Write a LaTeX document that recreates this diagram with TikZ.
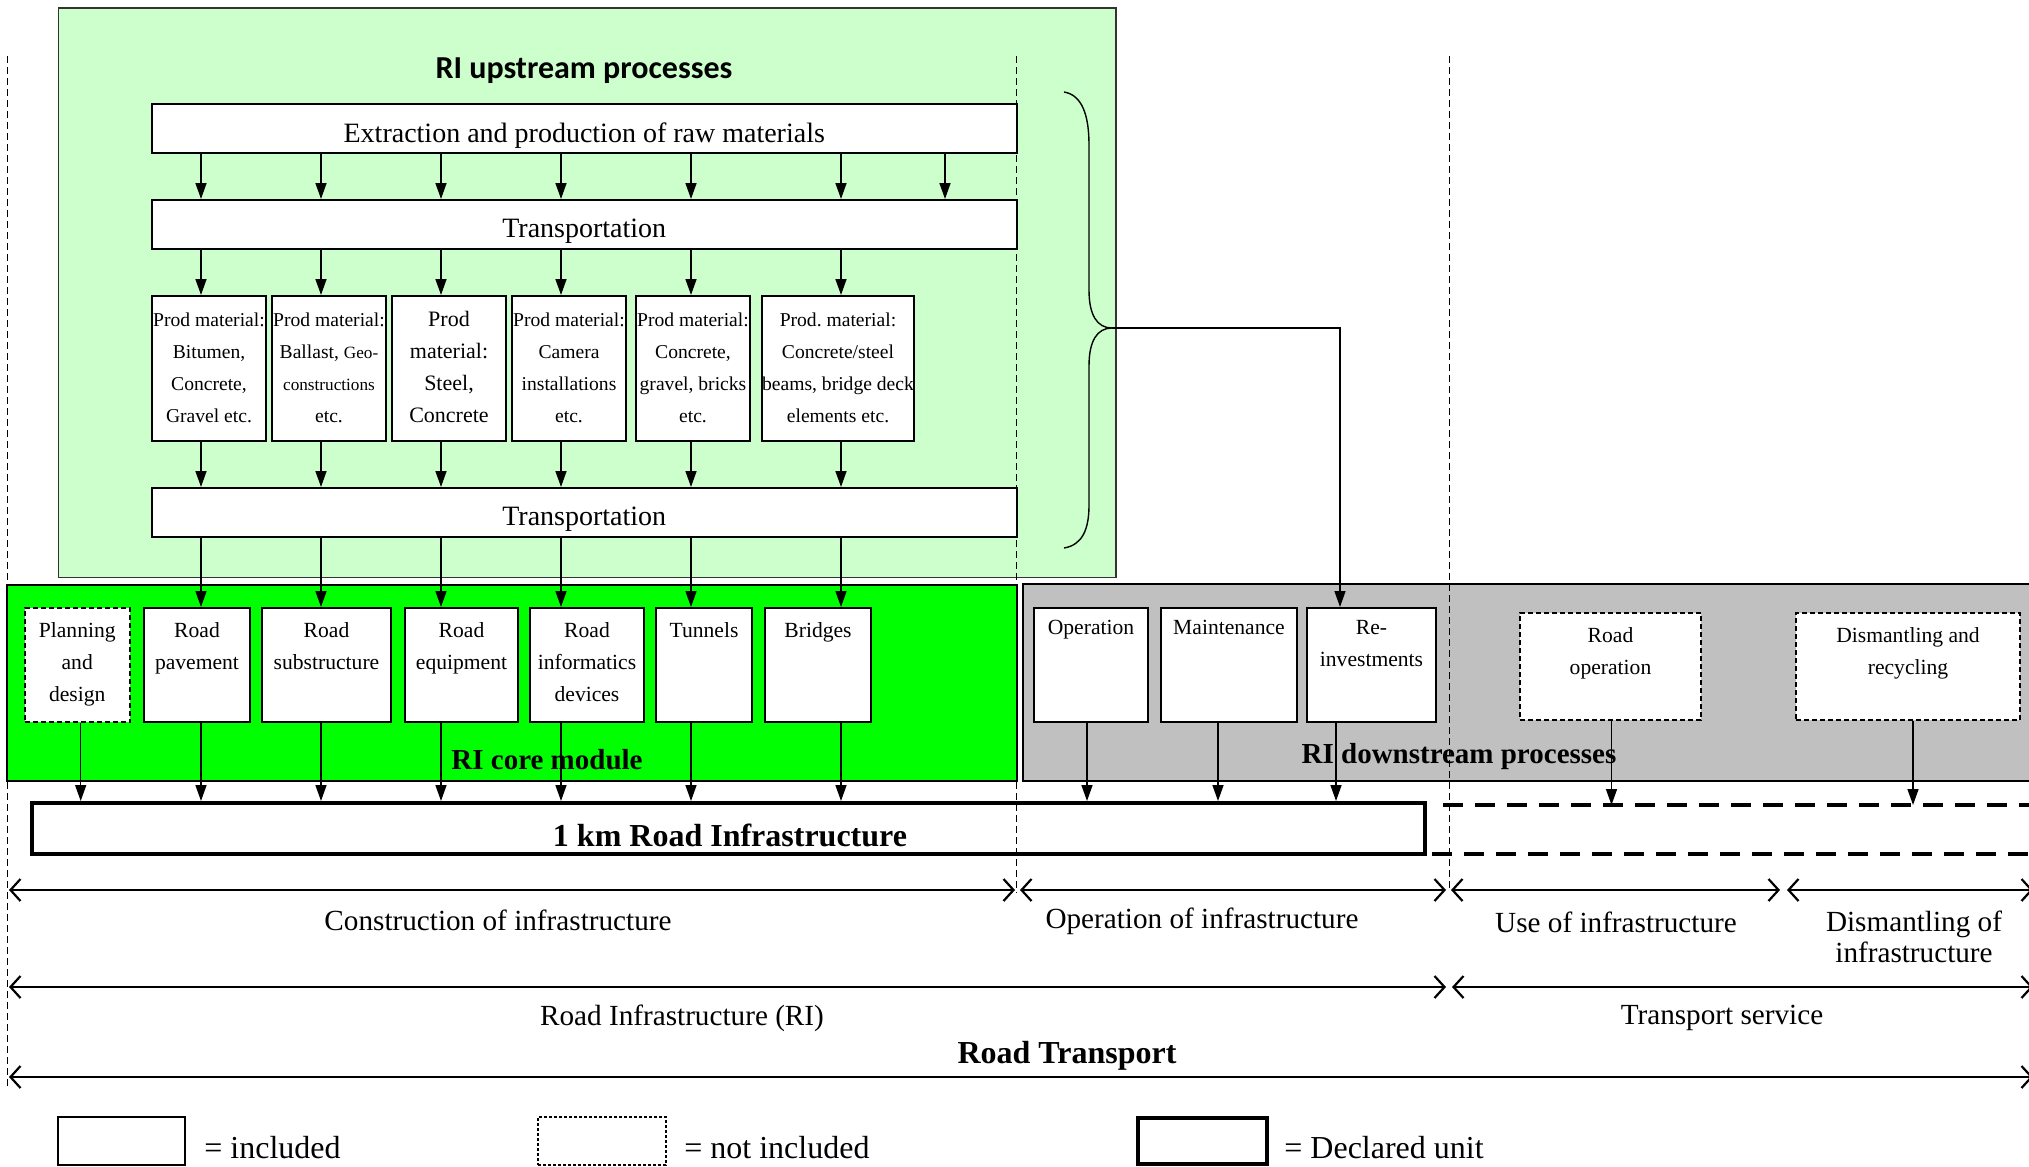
\documentclass[tikz,border=0pt]{standalone}
\usepackage{fontspec}
\setmainfont{Liberation Serif}
\newfontfamily\calibri{Carlito}
\usetikzlibrary{fit,arrows.meta}
\definecolor{upgreen}{HTML}{CCFFCC}
\definecolor{coregreen}{HTML}{00FF00}
\definecolor{downgray}{HTML}{C0C0C0}
\frenchspacing
\begin{document}
\begin{tikzpicture}[x=0.5pt,y=-0.5pt,
  box/.style={draw, fill=white, line width=1pt, inner sep=0pt},
  nbox/.style={draw, fill=white, line width=1pt, inner sep=0pt, dash pattern=on 2.5pt off 1.5pt},
  area/.style={draw=black!80, line width=0.8pt, inner sep=0pt},
  arr/.style={-{Triangle[length=8pt,width=5.5pt]}, line width=0.75pt},
  dimarr/.style={{Straight Barb[length=5pt,width=11pt]}-{Straight Barb[length=5pt,width=11pt]}, line width=1.1pt},
  vdash/.style={line width=0.5pt, dash pattern=on 3.5pt off 2pt},
  txt/.style={inner sep=0pt, align=center},
  big/.style={txt, font=\fontsize{14}{17}\selectfont},
  sml/.style={txt, font=\fontsize{10.8}{16}\selectfont},
  prod/.style={txt, font=\fontsize{9.8}{16}\selectfont},
  lab/.style={txt, font=\fontsize{14.6}{15.5}\selectfont},
  blab/.style={txt, font=\bfseries\fontsize{14.5}{17}\selectfont},
  leg/.style={inner sep=0pt, anchor=west, font=\fontsize{16}{18}\selectfont}]
\useasboundingbox (0,0) rectangle (2029,1167);

% column coordinates
\coordinate (c0) at (80.7,0);
\coordinate (c1) at (201,0);
\coordinate (c2) at (321,0);
\coordinate (c3) at (441,0);
\coordinate (c4) at (561,0);
\coordinate (c5) at (691,0);
\coordinate (c6) at (841,0);
\coordinate (c7) at (945,0);
\coordinate (d1) at (1087,0);
\coordinate (d2) at (1218,0);
\coordinate (d3) at (1336,0);
\coordinate (cre) at (1340,0);
\coordinate (d4) at (1611.5,0);
\coordinate (d5) at (1913,0);

% areas
\node[area, fill=upgreen, fit={(58.6,8) (1116,577.5)}] (up) {};
\node[area, draw=black, fill=coregreen, fit={(7,585) (1017,781)}] (core) {};
\node[area, draw=black, fill=downgray, fit={(1023,584) (2040,781)}] (down) {};

\node[font=\calibri\bfseries\fontsize{16}{19}\selectfont] (uptitle) at (584,71) {RI upstream processes};
\node[blab] (coretitle) at (547,760) {RI core module};
\node[blab] (downtitle) at (1459,757) {RI downstream processes};

% upstream boxes
\node[box, fit={(152,104) (1016.5,153)}] (ext) {};
\node[big] at ([yshift=-3.6pt]ext.center) {Extraction and production of raw materials};
\node[box, fit={(152,200) (1016.5,249)}] (tr1) {};
\node[big] at ([yshift=-3.6pt]tr1.center) {Transportation};
\node[box, fit={(152,296) (266,441)}] (p1) {};
\node[box, fit={(272,296) (386,441)}] (p2) {};
\node[box, fit={(392,296) (506,441)}] (p3) {};
\node[box, fit={(512,296) (626,441)}] (p4) {};
\node[box, fit={(636,296) (750,441)}] (p5) {};
\node[box, fit={(762,296) (914,441)}] (p6) {};
\node[prod] at ([yshift=0.3pt]p1.center) {Prod material:\\Bitumen,\\Concrete,\\Gravel etc.};
\node[prod] at ([yshift=0.3pt]p2.center) {Prod material:\\Ballast, {\fontsize{8.6}{16}\selectfont Geo-}\\{\fontsize{8.6}{16}\selectfont constructions}\\etc.};
\node[txt, font=\fontsize{11}{16}\selectfont] at ([yshift=0.6pt]p3.center) {Prod\\material:\\Steel,\\Concrete};
\node[prod] at ([yshift=0.3pt]p4.center) {Prod material:\\Camera\\installations\\etc.};
\node[prod] at ([yshift=0.3pt]p5.center) {Prod material:\\Concrete,\\gravel, bricks\\etc.};
\node[prod] at ([yshift=0.3pt]p6.center) {Prod. material:\\Concrete/steel\\beams, bridge deck\\elements etc.};
\node[box, fit={(152,488) (1016.5,537)}] (tr2) {};
\node[big] at ([yshift=-3.6pt]tr2.center) {Transportation};

% core boxes
\node[nbox, fit={(24.5,608) (130,722)}] (plan) {};
\node[box, fit={(144,608) (250,722)}] (pave) {};
\node[box, fit={(262,608) (391,722)}] (subs) {};
\node[box, fit={(405,608) (518,722)}] (equip) {};
\node[box, fit={(530,608) (644,722)}] (info) {};
\node[box, fit={(656,608) (752,722)}] (tunn) {};
\node[box, fit={(765,608) (871,722)}] (brid) {};
\node[sml, anchor=north] at ([yshift=-7.6pt]plan.north) {Planning\\and\\design};
\node[sml, anchor=north] at ([yshift=-7.6pt]pave.north) {Road\\pavement};
\node[sml, anchor=north] at ([yshift=-7.6pt]subs.north) {Road\\substructure};
\node[sml, anchor=north] at ([yshift=-7.6pt]equip.north) {Road\\equipment};
\node[sml, anchor=north] at ([yshift=-7.6pt]info.north) {Road\\informatics\\devices};
\node[sml, anchor=north] at ([yshift=-7.6pt]tunn.north) {Tunnels};
\node[sml, anchor=north] at ([yshift=-7.6pt]brid.north) {Bridges};

% downstream boxes
\node[box, fit={(1034,608) (1148,722)}] (oper) {};
\node[box, fit={(1161,608) (1297,722)}] (maint) {};
\node[box, fit={(1307,608) (1436,722)}] (reinv) {};
\node[nbox, fit={(1520,613) (1701,720)}] (rop) {};
\node[nbox, fit={(1796,613) (2020,720)}] (dism) {};
\node[sml, anchor=north] at ([yshift=-6.6pt]oper.north) {Operation};
\node[sml, anchor=north] at ([yshift=-6.6pt]maint.north) {Maintenance};
\node[sml, anchor=north] at ([yshift=-6.6pt]reinv.north) {Re-\\investments};
\node[sml, anchor=north] at ([yshift=-7.4pt]rop.north) {Road\\operation};
\node[sml, anchor=north] at ([yshift=-7.4pt]dism.north) {Dismantling and\\recycling};

% declared unit
\node[draw, line width=2pt, inner sep=0pt, fit={(31.6,803) (1425,854)}] (km) {};
\node[txt, font=\bfseries\fontsize{16}{19}\selectfont] (kmtext) at (730,835) {1 km Road Infrastructure};
\coordinate (kmx) at (0,805);
\draw[line width=2pt, dash pattern=on 10pt off 6pt] (1443,805) -- (2040,805);
\draw[line width=2pt, dash pattern=on 10pt off 6pt] (1432,854) -- (2040,854);

% arrows
\foreach \c in {c1,c2,c3,c4,c5,c6,c7}
  \draw[arr] (ext.south -| \c) -- (tr1.north -| \c);
\foreach \p/\c in {p1/c1,p2/c2,p3/c3,p4/c4,p5/c5,p6/c6}{
  \draw[arr] (tr1.south -| \c) -- (\p.north -| \c);
  \draw[arr] (\p.south -| \c) -- (tr2.north -| \c);}
\foreach \b/\c in {pave/c1,subs/c2,equip/c3,info/c4,tunn/c5,brid/c6}{
  \draw[arr] (tr2.south -| \c) -- (\b.north -| \c);
  \draw[arr] (\b.south -| \c) -- (km.north -| \c);}
\draw[arr] (plan.south -| c0) -- (km.north -| c0);
\draw[arr] (oper.south -| d1) -- (km.north -| d1);
\draw[arr] (maint.south -| d2) -- (km.north -| d2);
\draw[arr] (reinv.south -| d3) -- (km.north -| d3);
\draw[arr] (rop.south -| d4) -- (kmx -| d4);
\draw[arr] (dism.south -| d5) -- (kmx -| d5);

% brace
\coordinate (brtip) at (1112,328);
\draw[line width=0.7pt] (1064,92) .. controls (1082,95) and (1089,115) .. (1089,145) -- (1089,290)
  .. controls (1089,315) and (1097,328) .. (brtip)
  .. controls (1097,328) and (1089,341) .. (1089,366) -- (1089,505)
  .. controls (1089,530) and (1082,545) .. (1064,548);
\draw[arr] (brtip) -| (reinv.north -| cre);

% dashed separators
\draw[vdash] (7.7,56) -- (7.7,1087);
\draw[vdash] (1016.5,56) -- (1016.5,893);
\draw[vdash] (1449.5,56) -- (1449.5,890);

% dimension lines
\coordinate (r1a) at (9,890);
\coordinate (r1b) at (1015,890);
\coordinate (r1c) at (1020,890);
\coordinate (r1d) at (1446,890);
\coordinate (r1e) at (1451,890);
\coordinate (r1f) at (1780,890);
\coordinate (r1g) at (1787,890);
\coordinate (r1h) at (2033,890);
\coordinate (r2a) at (9,987);
\coordinate (r2b) at (1446,987);
\coordinate (r2c) at (1452,987);
\coordinate (r2d) at (2033,987);
\coordinate (r3a) at (9,1077);
\coordinate (r3b) at (2033,1077);
\draw[dimarr] (r1a) -- (r1b);
\draw[dimarr] (r1c) -- (r1d);
\draw[dimarr] (r1e) -- (r1f);
\draw[dimarr] (r1g) -- (r1h);
\draw[dimarr] (r2a) -- (r2b);
\draw[dimarr] (r2c) -- (r2d);
\draw[dimarr] (r3a) -- (r3b);

\node[lab] (l1) at (498,920) {Construction of infrastructure};
\node[lab] (l2) at (1202,921) {Operation of infrastructure};
\node[lab] (l3) at (1616,922) {Use of infrastructure};
\node[lab] (l4) at (1914,937) {Dismantling of\\infrastructure};
\node[lab] (l5) at (682,1018) {Road Infrastructure (RI)};
\node[lab] (l6) at (1722,1018) {Transport service};
\node[txt, font=\bfseries\fontsize{16}{19}\selectfont] (l7) at (1067,1056) {Road Transport};

% legend
\node[box, fit={(58,1117) (185,1165)}] (leg1) {};
\node[leg] (leg1t) at (204,1148) {= included};
\node[box, dash pattern=on 1.5pt off 1pt, fit={(538,1117) (666,1165)}] (leg2) {};
\node[leg] (leg2t) at (684,1148) {= not included};
\node[box, line width=2.2pt, fit={(1138,1118) (1267,1164)}] (leg3) {};
\node[leg] (leg3t) at (1284,1148) {= Declared unit};
\end{tikzpicture}
\end{document}
